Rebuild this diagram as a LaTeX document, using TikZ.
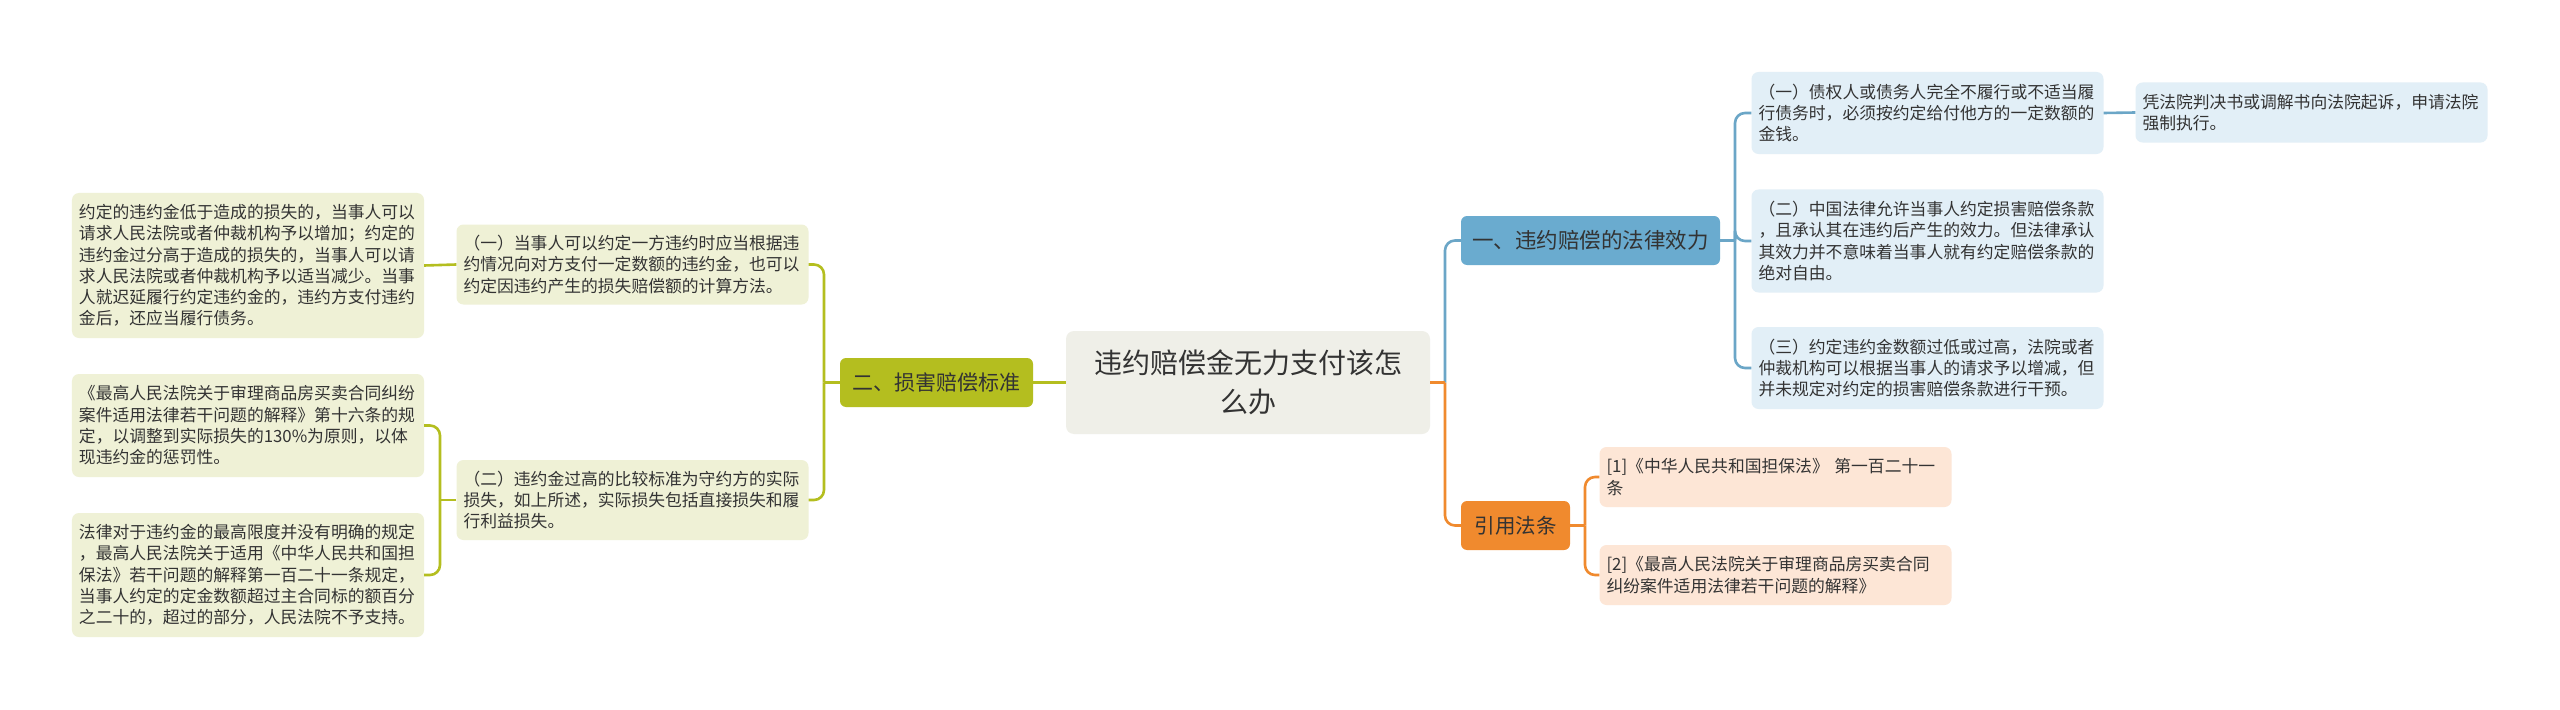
\documentclass[tikz,border=0pt]{standalone}
\usepackage{fontspec}
\setmainfont{Noto Sans CJK SC}
\usetikzlibrary{calc}
\definecolor{txt}{HTML}{333333}
\definecolor{rootfill}{HTML}{EFEFE8}
\definecolor{olivec}{HTML}{B4BE1F}
\definecolor{oleafc}{HTML}{EFF1D6}
\definecolor{bluec}{HTML}{6AABCF}
\definecolor{bluel}{HTML}{6BA6C7}
\definecolor{bleafc}{HTML}{E2EFF7}
\definecolor{orangec}{HTML}{F08A2E}
\definecolor{orleafc}{HTML}{FDE6D6}
\tikzset{
  leaf/.style={rounded corners=7bp, inner sep=0pt, minimum width=352bp,
    text width=338bp, align=left, text=txt,
    font=\fontsize{16.8bp}{21.3bp}\selectfont},
  oleaf/.style={leaf, fill=oleafc},
  bleaf/.style={leaf, fill=bleafc},
  orleaf/.style={leaf, fill=orleafc},
  mainbox/.style={rounded corners=6bp, inner sep=0pt, align=center, text=txt,
    font=\fontsize{21bp}{26bp}\selectfont},
  conn/.style={line width=2.6bp},
  oline/.style={conn, draw=olivec},
  bline/.style={conn, draw=bluel},
  orline/.style={conn, draw=orangec},
  roundbend/.style={rounded corners=10bp},
}
\begin{document}
\begin{tikzpicture}[x=1bp,y=-1bp]
\useasboundingbox (0,0) rectangle (2560,710);
\fill[white] (0,0) rectangle (2560,710);

% root
\node[rounded corners=8bp, fill=rootfill, inner sep=0pt, minimum width=364bp, minimum height=103bp,
  align=center, text=txt, font=\fontsize{28bp}{39bp}\selectfont] (root) at (1248,382.5)
  {违约赔偿金无力支付该怎\\么办};

% main branches
\node[mainbox, fill=olivec, minimum width=193bp, minimum height=49bp] (olive) at (936.5,382.5) {二、损害赔偿标准};
\node[mainbox, fill=bluec, minimum width=259bp, minimum height=49bp, font=\fontsize{21.5bp}{26bp}\selectfont] (blue) at (1590.5,240.5) {一、违约赔偿的法律效力};
\node[mainbox, fill=orangec, minimum width=109bp, minimum height=49bp, font=\fontsize{20.5bp}{26bp}\selectfont] (orng) at (1515.5,525.5) {引用法条};

% left side
\node[oleaf, minimum height=80bp] (L1) at (632.5,264.5)
  {（一）当事人可以约定一方违约时应当根据违\\约情况向对方支付一定数额的违约金，也可以\\约定因违约产生的损失赔偿额的计算方法。};
\node[oleaf, minimum height=80bp] (L2) at (632.5,500)
  {（二）违约金过高的比较标准为守约方的实际\\损失，如上所述，实际损失包括直接损失和履\\行利益损失。};
\node[oleaf, minimum height=145bp] (LL1) at (248,265.5)
  {约定的违约金低于造成的损失的，当事人可以\\请求人民法院或者仲裁机构予以增加；约定的\\违约金过分高于造成的损失的，当事人可以请\\求人民法院或者仲裁机构予以适当减少。当事\\人就迟延履行约定违约金的，违约方支付违约\\金后，还应当履行债务。};
\node[oleaf, minimum height=103bp] (LL2) at (248,425.5)
  {《最高人民法院关于审理商品房买卖合同纠纷\\案件适用法律若干问题的解释》第十六条的规\\定，以调整到实际损失的130\%为原则，以体\\现违约金的惩罚性。};
\node[oleaf, minimum height=124bp] (LL3) at (248,575)
  {法律对于违约金的最高限度并没有明确的规定\\，最高人民法院关于适用《中华人民共和国担\\保法》若干问题的解释第一百二十一条规定，\\当事人约定的定金数额超过主合同标的额百分\\之二十的，超过的部分，人民法院不予支持。};

% right side blue
\node[bleaf, minimum height=82bp] (R1) at (1927.5,113)
  {（一）债权人或债务人完全不履行或不适当履\\行债务时，必须按约定给付他方的一定数额的\\金钱。};
\node[bleaf, minimum height=103bp] (R2) at (1927.5,241)
  {（二）中国法律允许当事人约定损害赔偿条款\\，且承认其在违约后产生的效力。但法律承认\\其效力并不意味着当事人就有约定赔偿条款的\\绝对自由。};
\node[bleaf, minimum height=82bp] (R3) at (1927.5,368)
  {（三）约定违约金数额过低或过高，法院或者\\仲裁机构可以根据当事人的请求予以增减，但\\并未规定对约定的损害赔偿条款进行干预。};
\node[bleaf, minimum height=60bp] (Rc) at (2311.5,112.5)
  {凭法院判决书或调解书向法院起诉，申请法院\\强制执行。};

% orange leaves
\node[orleaf, minimum height=60bp] (O1) at (1775.5,477)
  {[1]《中华人民共和国担保法》 第一百二十一\\条};
\node[orleaf, minimum height=60bp] (O2) at (1775.5,575)
  {[2]《最高人民法院关于审理商品房买卖合同\\纠纷案件适用法律若干问题的解释》};

% junction coordinates
\coordinate (jO) at (824,382.5);
\coordinate (jL2) at (440,500);
\coordinate (jR) at (1445,382.5);
\coordinate (jB) at (1735,240.5);
\coordinate (jOr) at (1585,525.5);

% connectors
\draw[oline] (root.west) -- (olive.east);
\draw[oline] (olive.west) -- (jO);
\draw[oline, roundbend] (jO) |- (L1.east);
\draw[oline, roundbend] (jO) |- (L2.east);
\draw[oline] (L1.west) -- (LL1.east);
\draw[oline] (L2.west) -- (jL2);
\draw[oline, roundbend] (jL2) |- (LL2.east);
\draw[oline, roundbend] (jL2) |- (LL3.east);

\draw[bline, roundbend] (jR) |- (blue.west);
\draw[orline, roundbend] (jR) |- (orng.west);
\draw[orline] (root.east) -- (jR);

\draw[bline] (blue.east) -- (jB);
\draw[bline, roundbend] (jB) |- (R1.west);
\draw[bline, roundbend] (jB) |- (R2.west);
\draw[bline, roundbend] (jB) |- (R3.west);
\draw[bline] (R1.east) -- (Rc.west);

\draw[orline] (orng.east) -- (jOr);
\draw[orline, roundbend] (jOr) |- (O1.west);
\draw[orline, roundbend] (jOr) |- (O2.west);
\end{tikzpicture}
\end{document}
